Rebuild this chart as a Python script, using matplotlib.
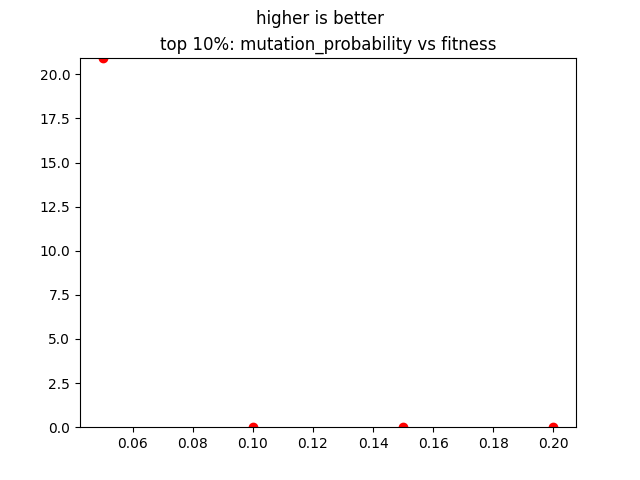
import matplotlib
matplotlib.use("Agg")
import matplotlib.pyplot as plt

mutation_probability = [0.05, 0.10, 0.15, 0.20]
fitness = [20.95, 0.0, 0.0, 0.0]

fig, ax = plt.subplots(figsize=(6.4, 4.8), dpi=100)
ax.scatter(mutation_probability, fitness, color="red")
ax.set_ylim(0, max(fitness))
fig.suptitle("higher is better")
ax.set_title("top 10%: mutation_probability vs fitness")
fig.savefig("out.png")
